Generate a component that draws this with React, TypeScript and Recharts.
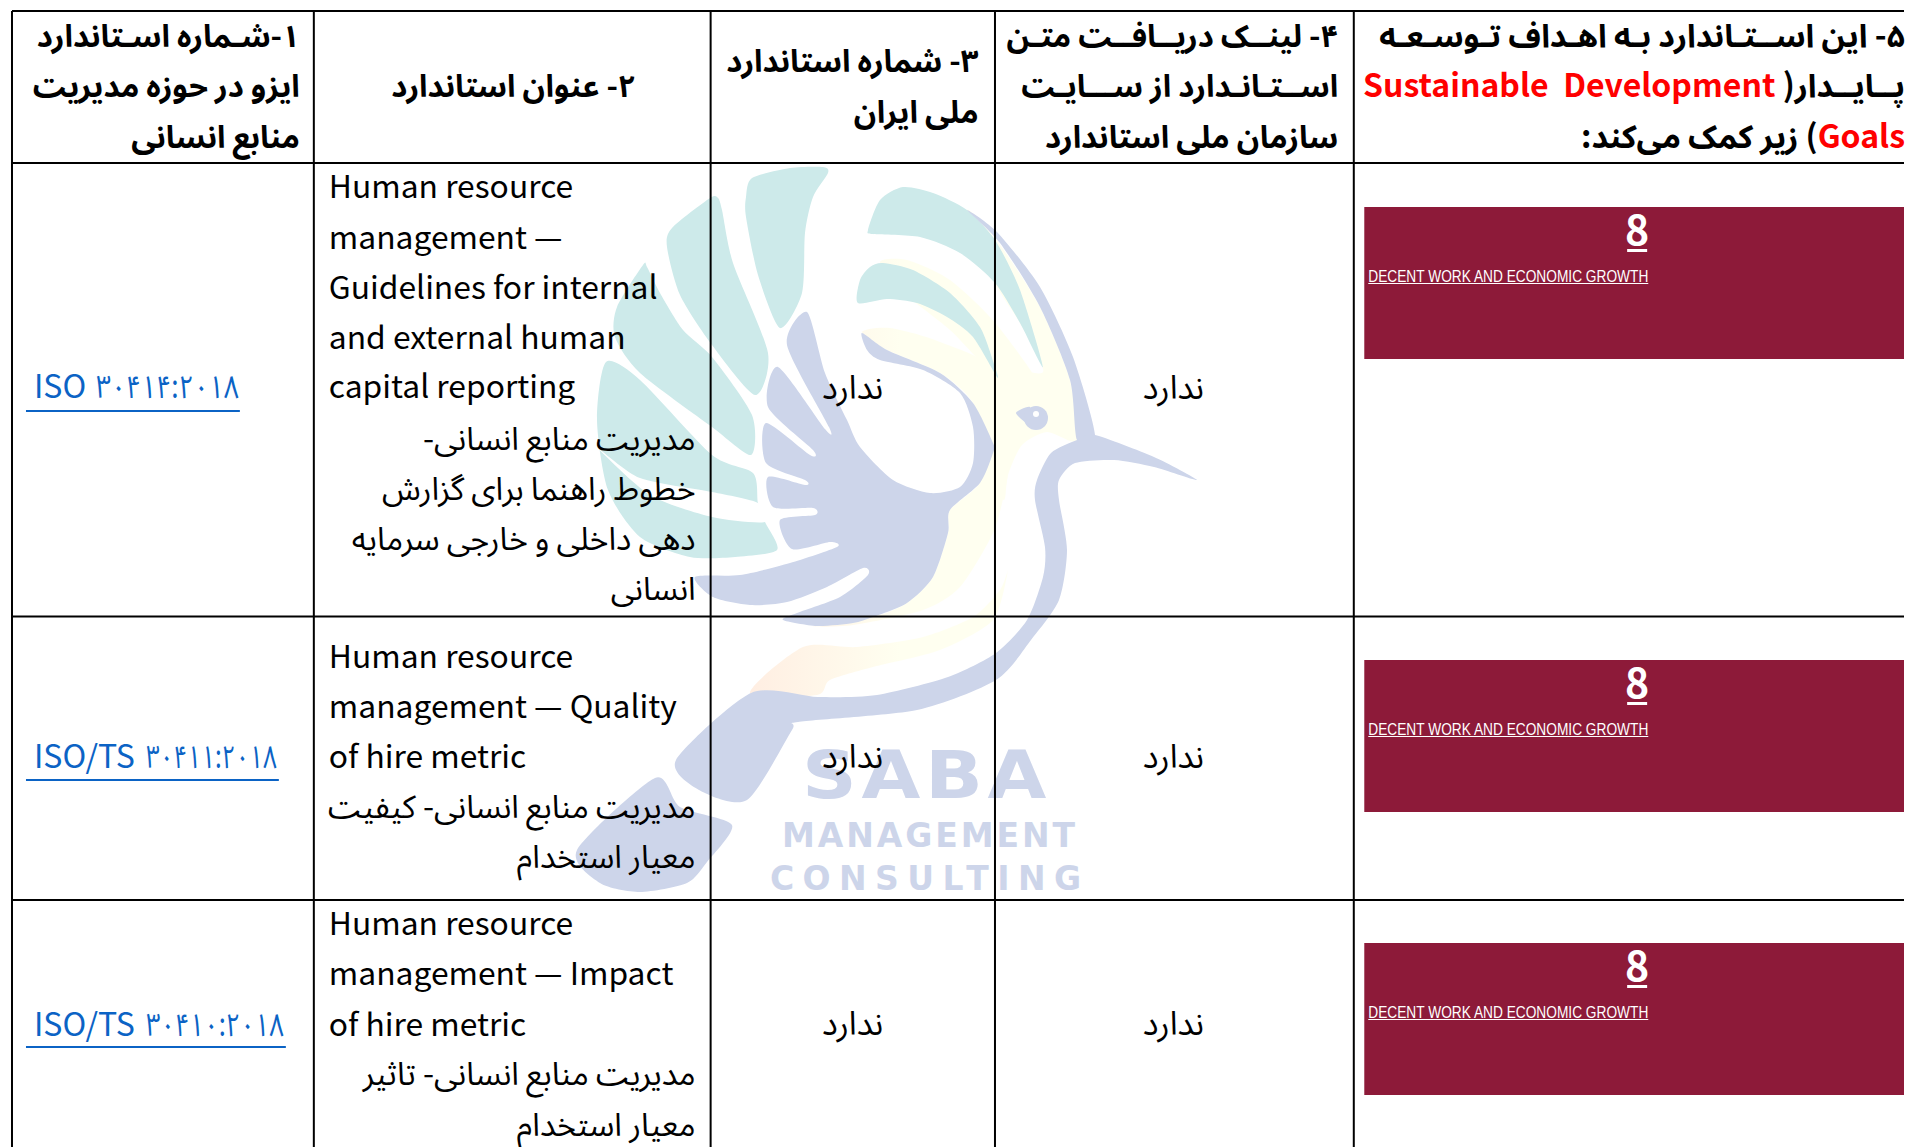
import React from 'react';
import {
  ScatterChart,
  Scatter,
  XAxis,
  YAxis,
  ReferenceLine,
  ReferenceArea,
  Customized,
} from 'recharts';

const WIDTH = 1905;
const HEIGHT = 1147;

// table frame, in picture units
const columnEdges = [12, 314, 711, 995.5, 1354.5];
const rowEdges = [11, 163, 616.5, 900];

const headerLines = [
  { x: 300, y: 47, text: '۱-شـماره اسـتاندارد' },
  { x: 300, y: 97, text: 'ایزو در حوزه مدیریت' },
  { x: 300, y: 148, text: 'منابع انسانی' },
  { x: 636, y: 97, text: '۲- عنوان استاندارد' },
  { x: 979, y: 72, text: '۳- شماره استاندارد' },
  { x: 979, y: 123, text: 'ملی ایران' },
  { x: 1339, y: 47, text: '۴- لینــک دریــافــت متـن' },
  { x: 1339, y: 97, text: 'اســتـانـدارد از ســـایـت' },
  { x: 1339, y: 148, text: 'سازمان ملی استاندارد' },
];

// odd parts are the red ones
const goalLines = [
  { x: 1906, y: 47, parts: ['۵- این اســتـاندارد بـه اهـداف تـوسـعـه'] },
  { x: 1906, y: 97, parts: ['پــایــدار( ', 'Sustainable  Development'] },
  { x: 1906, y: 148, parts: ['', 'Goals', ') زیر کمک می‌کند:'] },
];

const isoPrefixes = [
  { x: 34, y: 398, text: 'ISO' },
  { x: 34, y: 768, text: 'ISO/TS' },
  { x: 34, y: 1036, text: 'ISO/TS' },
];
const isoNumbers = [
  { x: 96, y: 398, text: '۳۰۴۱۴:۲۰۱۸', span: 143 },
  { x: 146, y: 768, text: '۳۰۴۱۱:۲۰۱۸', span: 131 },
  { x: 146, y: 1036, text: '۳۰۴۱۰:۲۰۱۸', span: 138 },
];
const isoUnderlines = [
  { y: 411, from: 26, to: 240 },
  { y: 780, from: 26, to: 279 },
  { y: 1047, from: 26, to: 286 },
];

const englishTitles = [
  { x: 329, y: 198, text: 'Human resource' },
  { x: 329, y: 249, text: 'management —' },
  { x: 329, y: 299, text: 'Guidelines for internal' },
  { x: 329, y: 349, text: 'and external human' },
  { x: 329, y: 398, text: 'capital reporting' },
  { x: 329, y: 668, text: 'Human resource' },
  { x: 329, y: 718, text: 'management — Quality' },
  { x: 329, y: 768, text: 'of hire metric' },
  { x: 329, y: 935, text: 'Human resource' },
  { x: 329, y: 985, text: 'management — Impact' },
  { x: 329, y: 1036, text: 'of hire metric' },
];

const persianTitles = [
  { x: 696, y: 450, text: 'مدیریت منابع انسانی-' },
  { x: 696, y: 500, text: 'خطوط راهنما برای گزارش' },
  { x: 696, y: 550, text: 'دهی داخلی و خارجی سرمایه' },
  { x: 696, y: 600, text: 'انسانی' },
  { x: 696, y: 818, text: 'مدیریت منابع انسانی- کیفیت' },
  { x: 696, y: 868, text: 'معیار استخدام' },
  { x: 696, y: 1085, text: 'مدیریت منابع انسانی- تاثیر' },
  { x: 696, y: 1136, text: 'معیار استخدام' },
];

const noneLabels = [
  { x: 853, y: 399, text: 'ندارد' },
  { x: 1174, y: 399, text: 'ندارد' },
  { x: 853, y: 768, text: 'ندارد' },
  { x: 1174, y: 768, text: 'ندارد' },
  { x: 853, y: 1035, text: 'ندارد' },
  { x: 1174, y: 1035, text: 'ندارد' },
];

const goalBoxes = [
  { x1: 1365, x2: 1905, y1: 207, y2: 359 },
  { x1: 1365, x2: 1905, y1: 660, y2: 812 },
  { x1: 1365, x2: 1905, y1: 943, y2: 1095 },
];
const goalNumbers = [
  { x: 1638, y: 245, text: '8' },
  { x: 1638, y: 698, text: '8' },
  { x: 1638, y: 981, text: '8' },
];
const goalNames = [
  { x: 1369, y: 282, text: 'DECENT WORK AND ECONOMIC GROWTH' },
  { x: 1369, y: 735, text: 'DECENT WORK AND ECONOMIC GROWTH' },
  { x: 1369, y: 1018, text: 'DECENT WORK AND ECONOMIC GROWTH' },
];

const BODY_FONT = '"Noto Sans CJK SC", "Noto Sans Arabic", "Noto Sans Arabic UI", "DejaVu Sans", sans-serif';
const TEAL = '#cdeaea';
const BLUE = '#cdd5ea';
const CREAM = '#fffff0';
const LINK = '#0b63c5';

// closed smooth outline through the traced points of the logo
const blob = (pts: number[][]) => {
  const n = pts.length;
  let d = `M${pts[0][0]},${pts[0][1]}`;
  for (let i = 0; i < n; i++) {
    const p0 = pts[(i - 1 + n) % n];
    const p1 = pts[i];
    const p2 = pts[(i + 1) % n];
    const p3 = pts[(i + 2) % n];
    const k = 1 / 8;
    d += `C${p1[0] + (p2[0] - p0[0]) * k},${p1[1] + (p2[1] - p0[1]) * k} ${p2[0] - (p3[0] - p1[0]) * k},${p2[1] - (p3[1] - p1[1]) * k} ${p2[0]},${p2[1]}`;
  }
  return d + 'Z';
};

const creamShapes = [
  [[967, 210], [1000, 245], [1040, 307], [1070, 380], [1077, 440], [1047, 432], [1022, 445], [1008, 475], [1004, 500], [990, 470], [995, 373], [1043, 372], [1020, 323], [995, 283]],
  [[880, 262], [907, 260], [950, 280], [997, 325], [1045, 395], [1000, 380], [950, 330], [900, 290]],
  [[862, 332], [890, 328], [940, 342], [995, 373], [996, 470], [973, 403], [940, 373], [887, 350]],
  [[993, 440], [1007, 470], [1005, 490], [993, 533], [960, 587], [923, 610], [853, 625], [813, 626], [873, 617], [907, 603], [933, 577], [948, 533], [950, 510], [980, 483]],
  [[803, 647], [857, 647], [923, 637], [973, 617], [1000, 590], [1008, 570], [993, 620], [940, 650], [873, 667], [830, 680], [817, 695], [750, 693]],
];

const tealShapes = [
  [[746, 197], [752, 178], [790, 168], [823, 167], [828, 173], [813, 197], [805, 233], [802, 293], [780, 328], [758, 275], [746, 217]],
  [[667, 247], [672, 228], [710, 198], [718, 198], [722, 210], [733, 263], [768, 353], [755, 395], [712, 345], [680, 295]],
  [[643, 265], [647, 267], [660, 293], [683, 330], [712, 357], [752, 415], [751, 455], [712, 427], [640, 373], [615, 337], [617, 307]],
  [[606, 362], [640, 380], [712, 455], [753, 473], [758, 503], [765, 522], [777, 550], [735, 557], [690, 557], [640, 537], [608, 490], [597, 420]],
  [[868, 230], [880, 200], [903, 187], [933, 193], [967, 210], [995, 240], [1020, 290], [1043, 367], [1020, 323], [995, 283], [960, 253], [920, 237], [873, 234]],
  [[858, 303], [860, 280], [870, 267], [883, 263], [913, 270], [950, 293], [980, 327], [995, 367], [997, 377], [973, 337], [947, 317], [917, 303], [887, 299]],
];

const whiteCuts = [
  [[598, 448], [640, 478], [712, 492], [758, 503], [765, 522], [712, 517], [650, 495]],
];

const blueShapes = [
  // wing with its fingers and loop
  [[807, 312], [825, 373], [847, 420], [860, 447], [893, 480], [930, 493], [960, 487], [973, 463], [973, 427], [960, 393], [923, 370], [880, 360], [867, 350], [862, 333], [887, 350], [940, 373], [973, 403], [993, 443], [993, 453], [980, 483], [950, 510], [948, 533], [933, 577], [907, 603], [873, 617], [853, 623], [817, 626], [783, 620], [797, 613], [840, 597], [868, 575], [863, 568], [827, 587], [787, 602], [750, 605], [713, 597], [695, 577], [740, 575], [790, 563], [837, 547], [830, 542], [792, 549], [780, 520], [815, 515], [813, 508], [773, 507], [768, 477], [805, 485], [805, 480], [766, 463], [766, 423], [810, 455], [813, 450], [768, 407], [778, 367], [825, 429], [829, 427], [787, 345]],
  // crest band
  [[967, 210], [997, 232], [1040, 287], [1073, 357], [1095, 435], [1077, 440], [1070, 380], [1040, 307], [1000, 243]],
  // neck, beak and tail
  [[1077, 440], [1095, 435], [1154, 457], [1197, 480], [1154, 467], [1114, 460], [1075, 463], [1059, 480], [1059, 500], [1067, 550], [1059, 600], [1031, 640], [996, 680], [917, 710], [798, 722], [792, 730], [747, 800], [699, 790], [676, 760], [751, 693], [818, 697], [877, 695], [948, 677], [996, 653], [1027, 620], [1043, 577], [1045, 547], [1035, 500], [1037, 480], [1051, 453]],
  // lower tail feather
  [[655, 778], [680, 807], [732, 825], [707, 862], [687, 883], [640, 892], [600, 883], [577, 850]],
  // beak tick of the eye
  [[1016, 413], [1030, 407], [1030, 425]],
];

const Watermark = () => (
  <g>
    <defs>
      <linearGradient id="creamFade" gradientUnits="userSpaceOnUse" x1="750" y1="0" x2="900" y2="0">
        <stop offset="0%" stopColor="#ffeee2" />
        <stop offset="100%" stopColor={CREAM} />
      </linearGradient>
    </defs>
    {creamShapes.map((s, i) => (
      <path key={i} d={blob(s)} fill="url(#creamFade)" />
    ))}
    {tealShapes.map((s, i) => (
      <path key={i} d={blob(s)} fill={TEAL} />
    ))}
    {whiteCuts.map((s, i) => (
      <path key={i} d={blob(s)} fill="#ffffff" />
    ))}
    {blueShapes.map((s, i) => (
      <path key={i} d={blob(s)} fill={BLUE} />
    ))}
    <circle cx={1036} cy={418} r={12} fill={BLUE} />
    <circle cx={1036} cy={414} r={3} fill="#ffffff" />
    <g fontFamily="DejaVu Sans, sans-serif" fontWeight={700} fill={BLUE}>
      <text x={802} y={798} fontSize={66} letterSpacing={4} textLength={249} lengthAdjust="spacingAndGlyphs">SABA</text>
      <text x={782} y={847} fontSize={33} textLength={293}>MANAGEMENT</text>
      <text x={770} y={890} fontSize={33} textLength={311}>CONSULTING</text>
    </g>
  </g>
);

const RightText = (weight: number, size: number) => (p: any) => (
  <text x={p.cx} y={p.cy} direction="rtl" textAnchor="start" fontFamily={BODY_FONT} fontWeight={weight} fontSize={size} fill="#000000">
    {p.payload.text}
  </text>
);

const GoalLine = (p: any) => (
  <text x={p.cx} y={p.cy} direction="rtl" textAnchor="start" fontFamily={BODY_FONT} fontWeight={700} fontSize={32} fill="#000000" xmlSpace="preserve">
    {p.payload.parts.map((part: string, i: number) => (
      <tspan key={i} fill={i % 2 ? '#ff0000' : '#000000'}>{part}</tspan>
    ))}
  </text>
);

const LeftText = (p: any) => (
  <text x={p.cx} y={p.cy} fontFamily={BODY_FONT} fontSize={31.8} fill="#000000">
    {p.payload.text}
  </text>
);

const IsoPrefix = (p: any) => (
  <text x={p.cx} y={p.cy} fontFamily={BODY_FONT} fontSize={32} fill={LINK}>
    {p.payload.text}
  </text>
);

const IsoNumber = (p: any) => (
  <text x={p.cx} y={p.cy} fontFamily={BODY_FONT} fontSize={32} fill={LINK} textLength={p.payload.span} lengthAdjust="spacingAndGlyphs">
    {p.payload.text}
  </text>
);

const CenterText = (p: any) => (
  <text x={p.cx} y={p.cy} textAnchor="middle" fontFamily={BODY_FONT} fontSize={33} fill="#000000">
    {p.payload.text}
  </text>
);

const GoalNumber = (p: any) => (
  <g>
    <text x={p.cx} y={p.cy} textAnchor="middle" fontFamily={BODY_FONT} fontWeight={700} fontSize={41} fill="#ffffff">
      {p.payload.text}
    </text>
    <rect x={p.cx - 10} y={p.cy + 4} width={20} height={3} fill="#ffffff" />
  </g>
);

const GoalName = (p: any) => (
  <g>
    <text x={p.cx} y={p.cy} fontFamily="Liberation Sans, sans-serif" fontSize={16} textLength={280} lengthAdjust="spacingAndGlyphs" fill="#ffffff">
      {p.payload.text}
    </text>
    <rect x={p.cx} y={p.cy + 1} width={280} height={1} fill="#ffffff" />
  </g>
);

const App: React.FC = () => {
  return (
    <div style={{ position: 'absolute', left: 0, top: 0, width: WIDTH, height: HEIGHT, overflow: 'hidden', background: '#ffffff' }}>
      <ScatterChart width={WIDTH} height={HEIGHT} margin={{ top: 0, right: 0, bottom: 0, left: 0 }}>
        <XAxis type="number" dataKey="x" domain={[0, WIDTH]} hide />
        <YAxis type="number" dataKey="y" domain={[0, HEIGHT]} reversed hide />
        <Customized component={Watermark} />
        {goalBoxes.map((b, i) => (
          <ReferenceArea key={i} x1={b.x1} x2={b.x2} y1={b.y1} y2={b.y2} fill="#8d1a39" fillOpacity={1} stroke="none" />
        ))}
        {columnEdges.map((x) => (
          <ReferenceLine key={x} segment={[{ x, y: rowEdges[0] }, { x, y: HEIGHT }]} stroke="#000000" strokeWidth={2} />
        ))}
        {rowEdges.map((y) => (
          <ReferenceLine key={y} segment={[{ x: columnEdges[0], y }, { x: WIDTH, y }]} stroke="#000000" strokeWidth={2} />
        ))}
        {isoUnderlines.map((u) => (
          <ReferenceLine key={u.y} segment={[{ x: u.from, y: u.y }, { x: u.to, y: u.y }]} stroke={LINK} strokeWidth={2} />
        ))}
        <Scatter data={headerLines} shape={RightText(700, 31)} isAnimationActive={false} />
        <Scatter data={goalLines} shape={GoalLine} isAnimationActive={false} />
        <Scatter data={isoPrefixes} shape={IsoPrefix} isAnimationActive={false} />
        <Scatter data={isoNumbers} shape={IsoNumber} isAnimationActive={false} />
        <Scatter data={englishTitles} shape={LeftText} isAnimationActive={false} />
        <Scatter data={persianTitles} shape={RightText(400, 32)} isAnimationActive={false} />
        <Scatter data={noneLabels} shape={CenterText} isAnimationActive={false} />
        <Scatter data={goalNumbers} shape={GoalNumber} isAnimationActive={false} />
        <Scatter data={goalNames} shape={GoalName} isAnimationActive={false} />
      </ScatterChart>
    </div>
  );
};

export default App;
